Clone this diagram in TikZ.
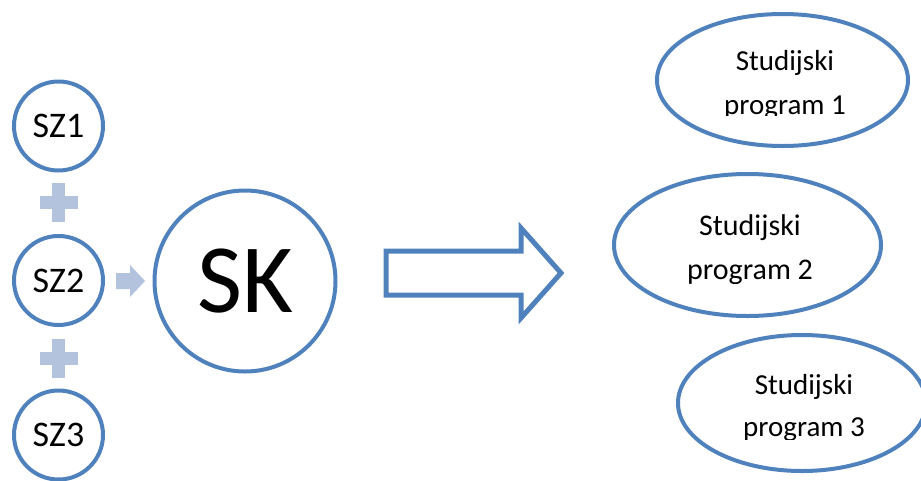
\documentclass[tikz,border=0pt]{standalone}
\usepackage{fontspec}
\setmainfont{Carlito}
\usetikzlibrary{shapes.geometric,calc}
\definecolor{ob}{HTML}{4F81BD}
\definecolor{lb}{HTML}{B3C3DE}
\begin{document}
\begin{tikzpicture}[x=1pt,y=-1pt,
  szc/.style={circle,draw=ob,line width=4pt,minimum size=89pt,inner sep=0pt,font=\fontsize{36}{40}\selectfont},
  skc/.style={circle,draw=ob,line width=4pt,minimum size=181pt,inner sep=0pt,font=\fontsize{98}{110}\selectfont},
  ell/.style={ellipse,draw=ob,line width=4pt,inner sep=0pt},
  etxt/.style={align=center,inner sep=0pt,font=\fontsize{29}{44}\selectfont},
  plusfill/.style={fill=lb},
  bigarr/.style={draw=ob,line width=5pt,line join=miter}
]
\useasboundingbox (0,0) rectangle (921,480);
% small circles
\node[szc] (sz1) at (58.5,126) {SZ1};
\node[szc] (sz2) at (58.5,280.5) {SZ2};
\node[szc] (sz3) at (58.5,435) {SZ3};
% big circle
\node[skc] (sk) at (245,281) {SK};
% plus signs
\coordinate (p1) at (58.5,202.5);
\coordinate (p2) at (58.5,358.5);
\foreach \p in {p1,p2}{
  \fill[plusfill] ($(\p)+(-19,-6.5)$) rectangle ($(\p)+(19,6.5)$);
  \fill[plusfill] ($(\p)+(-6.5,-19.5)$) rectangle ($(\p)+(6.5,19.5)$);
}
% small arrow
\coordinate (a0) at (130,281);
\fill[plusfill] ($(a0)+(-14,-8)$) -- ($(a0)+(0,-8)$) -- ($(a0)+(0,-16)$) -- ($(a0)+(15,0)$)
  -- ($(a0)+(0,16)$) -- ($(a0)+(0,8)$) -- ($(a0)+(-14,8)$) -- cycle;
% big hollow arrow
\coordinate (ba) at (386,273);
\draw[bigarr] ($(ba)+(0,-22)$) -- ($(ba)+(135,-22)$) -- ($(ba)+(135,-45)$) -- ($(ba)+(175,0)$)
  -- ($(ba)+(135,45)$) -- ($(ba)+(135,22)$) -- ($(ba)+(0,22)$) -- cycle;
% ellipses
\node[ell,minimum width=251pt,minimum height=132pt] (e1) at (782.5,80) {};
\node[ell,minimum width=267pt,minimum height=142pt] (e2) at (747.5,245) {};
\node[ell,minimum width=248pt,minimum height=136pt] (e3) at (802,403) {};
\begin{scope}
  \clip (640,30) rectangle (921,115);
  \node[etxt] (t1) at (785,85) {Studijski\\program 1};
\end{scope}
\begin{scope}
  \clip (620,190) rectangle (900,283);
  \node[etxt,font=\fontsize{30}{44}\selectfont] (t2) at (750,250) {Studijski\\program 2};
\end{scope}
\begin{scope}
  \clip (690,350) rectangle (921,439);
  \node[etxt,font=\fontsize{29}{42}\selectfont] (t3) at (804,408) {Studijski\\program 3};
\end{scope}
\end{tikzpicture}
\end{document}
